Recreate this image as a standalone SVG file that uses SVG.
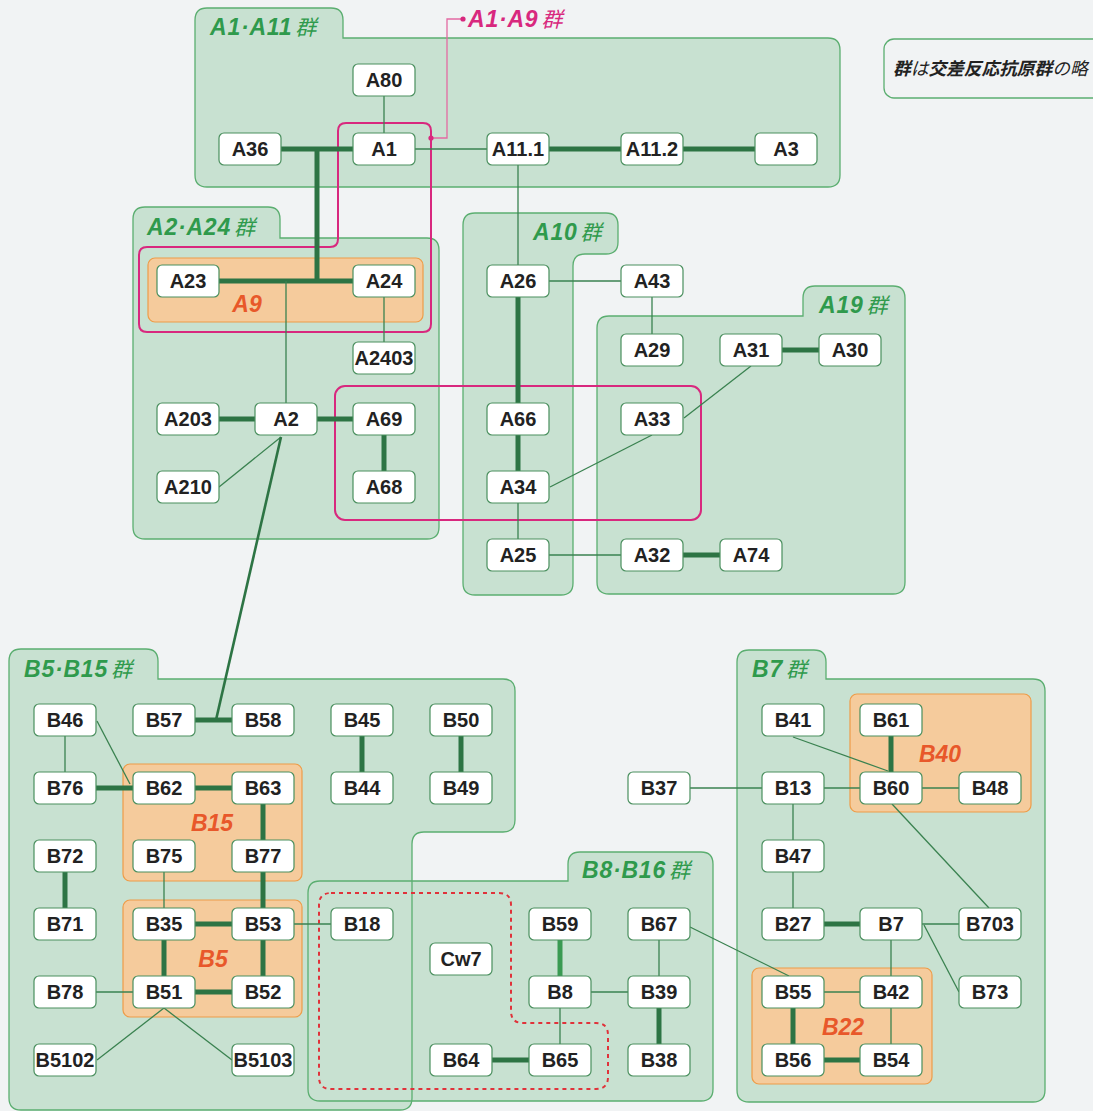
<svg xmlns="http://www.w3.org/2000/svg" width="1093" height="1111" viewBox="0 0 1093 1111">
<style>
.bg{fill:#f1f3f4}
.gf{fill:#c8e1d1;stroke:none}
.gs{fill:none;stroke:#5bae70;stroke-width:1.3}
.or{fill:#f5cb9c;stroke:#ee9c48;stroke-width:1.2}
.mg{fill:none;stroke:#d8287e;stroke-width:2}
.rd{fill:none;stroke:#e0323a;stroke-width:2;stroke-dasharray:4 4}
.tk{stroke:#2d7444;stroke-width:5;fill:none}
.tn{stroke:#3a8250;stroke-width:1.3;fill:none}
.nb{fill:#fff;stroke:#4a8f5e;stroke-width:1.2}
.nt{font-family:"Liberation Sans",Arial,sans-serif;font-weight:bold;font-size:20px;fill:#222;text-anchor:middle}
.gl{font-family:"Liberation Sans","Noto Sans CJK JP",sans-serif;font-weight:bold;font-style:italic;font-size:23px;fill:#2f9a4c;letter-spacing:0.8px}
.ol{font-family:"Liberation Sans",Arial,sans-serif;font-weight:bold;font-style:italic;font-size:23px;fill:#e8582a;text-anchor:middle}
.kj{font-weight:normal;font-size:21px}
.lg{font-family:"Liberation Sans","Noto Sans CJK JP",sans-serif;font-style:italic;font-size:17.7px;fill:#222}
</style>
<rect class="bg" x="0" y="0" width="1093" height="1111"/>

<g id="groups">
<path id="g-A1A11" class="gf" d="M195,20 Q195,8 207,8 H331 Q343,8 343,20 V38 H828 Q840,38 840,50 V175 Q840,187 828,187 H207 Q195,187 195,175 Z"/>
<path id="g-A2A24" class="gf" d="M133,219 Q133,207 145,207 H268 Q280,207 280,219 V238 H427 Q439,238 439,250 V527 Q439,539 427,539 H145 Q133,539 133,527 Z"/>
<path id="g-A10" class="gf" d="M463,225 Q463,213 475,213 H606 Q618,213 618,225 V242 Q618,254 606,254 H585 Q573,254 573,266 V583 Q573,595 561,595 H475 Q463,595 463,583 Z"/>
<path id="g-A19" class="gf" d="M609,316 H803 V298 Q803,286 815,286 H893 Q905,286 905,298 V582 Q905,594 893,594 H609 Q597,594 597,582 V328 Q597,316 609,316 Z"/>
<path id="g-B8B16" class="gf" d="M320,881 H568 V864 Q568,852 580,852 H701 Q713,852 713,864 V1089 Q713,1101 701,1101 H320 Q308,1101 308,1089 V893 Q308,881 320,881 Z"/>
<path id="g-B5B15" class="gf" d="M9,661 Q9,649 21,649 H146 Q158,649 158,661 V679 H503 Q515,679 515,691 V820 Q515,832 503,832 H424 Q412,832 412,844 V1098 Q412,1110 400,1110 H21 Q9,1110 9,1098 Z"/>
<path id="g-B7" class="gf" d="M737,662 Q737,650 749,650 H814 Q826,650 826,662 V679 H1033 Q1045,679 1045,691 V1090 Q1045,1102 1033,1102 H749 Q737,1102 737,1090 Z"/>
<path class="gs" d="M195,20 Q195,8 207,8 H331 Q343,8 343,20 V38 H828 Q840,38 840,50 V175 Q840,187 828,187 H207 Q195,187 195,175 Z"/>
<path class="gs" d="M133,219 Q133,207 145,207 H268 Q280,207 280,219 V238 H427 Q439,238 439,250 V527 Q439,539 427,539 H145 Q133,539 133,527 Z"/>
<path class="gs" d="M463,225 Q463,213 475,213 H606 Q618,213 618,225 V242 Q618,254 606,254 H585 Q573,254 573,266 V583 Q573,595 561,595 H475 Q463,595 463,583 Z"/>
<path class="gs" d="M609,316 H803 V298 Q803,286 815,286 H893 Q905,286 905,298 V582 Q905,594 893,594 H609 Q597,594 597,582 V328 Q597,316 609,316 Z"/>
<path class="gs" d="M320,881 H568 V864 Q568,852 580,852 H701 Q713,852 713,864 V1089 Q713,1101 701,1101 H320 Q308,1101 308,1089 V893 Q308,881 320,881 Z"/>
<path class="gs" d="M9,661 Q9,649 21,649 H146 Q158,649 158,661 V679 H503 Q515,679 515,691 V820 Q515,832 503,832 H424 Q412,832 412,844 V1098 Q412,1110 400,1110 H21 Q9,1110 9,1098 Z"/>
<path class="gs" d="M737,662 Q737,650 749,650 H814 Q826,650 826,662 V679 H1033 Q1045,679 1045,691 V1090 Q1045,1102 1033,1102 H749 Q737,1102 737,1090 Z"/>
</g>

<g id="subgroups">
<rect id="s-A9" class="or" x="148" y="258" width="275" height="64" rx="7"/>
<rect id="s-B15" class="or" x="123" y="764" width="179" height="117" rx="7"/>
<rect id="s-B5" class="or" x="123" y="900" width="179" height="117" rx="7"/>
<rect id="s-B40" class="or" x="850" y="694" width="181" height="118" rx="7"/>
<rect id="s-B22" class="or" x="752" y="968" width="180" height="116" rx="7"/>
</g>

<g id="outlines">
<path class="mg" d="M346,123 H423 Q431,123 431,131 V324 Q431,332 423,332 H147 Q139,332 139,324 V255 Q139,247 147,247 H330 Q338,247 338,239 V131 Q338,123 346,123 Z"/>
<rect class="mg" x="335" y="386" width="366" height="134" rx="10"/>
<path class="rd" d="M331,893 H499 Q511,893 511,905 V1011 Q511,1023 523,1023 H596 Q608,1023 608,1035 V1077 Q608,1089 596,1089 H331 Q319,1089 319,1077 V905 Q319,893 331,893 Z"/>
<path d="M431,138 H447 V19 H463" fill="none" stroke="#e36aa2" stroke-width="1.3"/>
<circle cx="431" cy="138" r="2.6" fill="#d8287e"/>
<circle cx="463" cy="19" r="2.6" fill="#d8287e"/>
</g>

<g id="connectors">
<line class="tn" x1="384" y1="96" x2="384" y2="133"/>
<line class="tk" x1="281" y1="149" x2="353" y2="149"/>
<line class="tk" x1="317" y1="149" x2="317" y2="281"/>
<line class="tk" x1="219" y1="281" x2="353" y2="281"/>
<line class="tn" x1="415" y1="149" x2="487" y2="149"/>
<line class="tk" x1="549" y1="149" x2="621" y2="149"/>
<line class="tk" x1="683" y1="149" x2="755" y2="149"/>
<line class="tn" x1="518" y1="165" x2="518" y2="265"/>
<line class="tn" x1="286" y1="281" x2="286" y2="403"/>
<line class="tn" x1="384" y1="297" x2="384" y2="342"/>
<line class="tk" x1="219" y1="419" x2="255" y2="419"/>
<line class="tk" x1="317" y1="419" x2="353" y2="419"/>
<line class="tk" x1="384" y1="435" x2="384" y2="471"/>
<line class="tn" x1="281" y1="437" x2="219" y2="487"/>
<line x1="281" y1="437" x2="216" y2="720" stroke="#2d7444" stroke-width="2.6"/>
<line class="tn" x1="549" y1="281" x2="621" y2="281"/>
<line class="tk" x1="518" y1="297" x2="518" y2="403"/>
<line class="tk" x1="518" y1="435" x2="518" y2="471"/>
<line class="tn" x1="518" y1="503" x2="518" y2="539"/>
<line class="tn" x1="652" y1="297" x2="652" y2="334"/>
<line class="tk" x1="782" y1="350" x2="819" y2="350"/>
<line class="tn" x1="751" y1="366" x2="684" y2="418"/>
<line class="tn" x1="652" y1="435" x2="550" y2="487"/>
<line class="tn" x1="549" y1="555" x2="621" y2="555"/>
<line class="tk" x1="683" y1="555" x2="720" y2="555"/>

<line class="tk" x1="195" y1="720" x2="232" y2="720"/>
<line class="tn" x1="65" y1="736" x2="65" y2="772"/>
<line class="tn" x1="97" y1="721" x2="130" y2="784"/>
<line class="tk" x1="96" y1="788" x2="133" y2="788"/>
<line class="tk" x1="195" y1="788" x2="232" y2="788"/>
<line class="tk" x1="263" y1="804" x2="263" y2="840"/>
<line class="tk" x1="263" y1="872" x2="263" y2="908"/>
<line class="tn" x1="164" y1="872" x2="164" y2="908"/>
<line class="tk" x1="65" y1="872" x2="65" y2="908"/>
<line class="tk" x1="195" y1="924" x2="232" y2="924"/>
<line class="tk" x1="164" y1="940" x2="164" y2="976"/>
<line class="tk" x1="263" y1="940" x2="263" y2="976"/>
<line class="tk" x1="195" y1="992" x2="232" y2="992"/>
<line class="tn" x1="96" y1="992" x2="133" y2="992"/>
<line class="tn" x1="164" y1="1008" x2="97" y2="1060"/>
<line class="tn" x1="164" y1="1008" x2="232" y2="1060"/>
<line class="tn" x1="294" y1="924" x2="331" y2="924"/>
<line class="tk" x1="362" y1="736" x2="362" y2="772"/>
<line class="tk" x1="461" y1="736" x2="461" y2="772"/>
<line x1="560" y1="940" x2="560" y2="976" stroke="#3a9a52" stroke-width="5"/>
<line class="tn" x1="591" y1="992" x2="628" y2="992"/>
<line class="tn" x1="560" y1="1008" x2="560" y2="1044"/>
<line class="tk" x1="492" y1="1060" x2="529" y2="1060"/>
<line class="tn" x1="659" y1="940" x2="659" y2="976"/>
<line class="tk" x1="659" y1="1008" x2="659" y2="1044"/>
<line class="tn" x1="690" y1="927" x2="789" y2="976"/>
<line class="tn" x1="690" y1="788" x2="762" y2="788"/>
<line class="tn" x1="824" y1="788" x2="860" y2="788"/>
<line class="tn" x1="793" y1="737" x2="888" y2="771"/>
<line class="tk" x1="891" y1="736" x2="891" y2="772"/>
<line class="tn" x1="922" y1="788" x2="959" y2="788"/>
<line class="tn" x1="892" y1="804" x2="989" y2="908"/>
<line class="tn" x1="793" y1="804" x2="793" y2="840"/>
<line class="tn" x1="793" y1="872" x2="793" y2="908"/>
<line class="tk" x1="824" y1="924" x2="860" y2="924"/>
<line class="tn" x1="922" y1="924" x2="959" y2="924"/>
<line class="tn" x1="924" y1="925" x2="959" y2="992"/>
<line class="tn" x1="891" y1="940" x2="891" y2="976"/>
<line class="tn" x1="824" y1="992" x2="860" y2="992"/>
<line class="tn" x1="891" y1="1008" x2="891" y2="1044"/>
<line class="tk" x1="793" y1="1008" x2="793" y2="1044"/>
<line class="tk" x1="824" y1="1060" x2="860" y2="1060"/>
</g>

<g id="nodes">
<g id="n-A80"><rect class="nb" x="353" y="64" width="62" height="32" rx="5"/><text class="nt" x="384" y="87">A80</text></g>
<g id="n-A36"><rect class="nb" x="219" y="133" width="62" height="32" rx="5"/><text class="nt" x="250" y="156">A36</text></g>
<g id="n-A1"><rect class="nb" x="353" y="133" width="62" height="32" rx="5"/><text class="nt" x="384" y="156">A1</text></g>
<g id="n-A11.1"><rect class="nb" x="487" y="133" width="62" height="32" rx="5"/><text class="nt" x="518" y="156">A11.1</text></g>
<g id="n-A11.2"><rect class="nb" x="621" y="133" width="62" height="32" rx="5"/><text class="nt" x="652" y="156">A11.2</text></g>
<g id="n-A3"><rect class="nb" x="755" y="133" width="62" height="32" rx="5"/><text class="nt" x="786" y="156">A3</text></g>
<g id="n-A23"><rect class="nb" x="157" y="265" width="62" height="32" rx="5"/><text class="nt" x="188" y="288">A23</text></g>
<g id="n-A24"><rect class="nb" x="353" y="265" width="62" height="32" rx="5"/><text class="nt" x="384" y="288">A24</text></g>
<g id="n-A26"><rect class="nb" x="487" y="265" width="62" height="32" rx="5"/><text class="nt" x="518" y="288">A26</text></g>
<g id="n-A43"><rect class="nb" x="621" y="265" width="62" height="32" rx="5"/><text class="nt" x="652" y="288">A43</text></g>
<g id="n-A29"><rect class="nb" x="621" y="334" width="62" height="32" rx="5"/><text class="nt" x="652" y="357">A29</text></g>
<g id="n-A31"><rect class="nb" x="720" y="334" width="62" height="32" rx="5"/><text class="nt" x="751" y="357">A31</text></g>
<g id="n-A30"><rect class="nb" x="819" y="334" width="62" height="32" rx="5"/><text class="nt" x="850" y="357">A30</text></g>
<g id="n-A2403"><rect class="nb" x="353" y="342" width="62" height="32" rx="5"/><text class="nt" x="384" y="365">A2403</text></g>
<g id="n-A203"><rect class="nb" x="157" y="403" width="62" height="32" rx="5"/><text class="nt" x="188" y="426">A203</text></g>
<g id="n-A2"><rect class="nb" x="255" y="403" width="62" height="32" rx="5"/><text class="nt" x="286" y="426">A2</text></g>
<g id="n-A69"><rect class="nb" x="353" y="403" width="62" height="32" rx="5"/><text class="nt" x="384" y="426">A69</text></g>
<g id="n-A66"><rect class="nb" x="487" y="403" width="62" height="32" rx="5"/><text class="nt" x="518" y="426">A66</text></g>
<g id="n-A33"><rect class="nb" x="621" y="403" width="62" height="32" rx="5"/><text class="nt" x="652" y="426">A33</text></g>
<g id="n-A210"><rect class="nb" x="157" y="471" width="62" height="32" rx="5"/><text class="nt" x="188" y="494">A210</text></g>
<g id="n-A68"><rect class="nb" x="353" y="471" width="62" height="32" rx="5"/><text class="nt" x="384" y="494">A68</text></g>
<g id="n-A34"><rect class="nb" x="487" y="471" width="62" height="32" rx="5"/><text class="nt" x="518" y="494">A34</text></g>
<g id="n-A25"><rect class="nb" x="487" y="539" width="62" height="32" rx="5"/><text class="nt" x="518" y="562">A25</text></g>
<g id="n-A32"><rect class="nb" x="621" y="539" width="62" height="32" rx="5"/><text class="nt" x="652" y="562">A32</text></g>
<g id="n-A74"><rect class="nb" x="720" y="539" width="62" height="32" rx="5"/><text class="nt" x="751" y="562">A74</text></g>

<g id="n-B46"><rect class="nb" x="34" y="704" width="62" height="32" rx="5"/><text class="nt" x="65" y="727">B46</text></g>
<g id="n-B57"><rect class="nb" x="133" y="704" width="62" height="32" rx="5"/><text class="nt" x="164" y="727">B57</text></g>
<g id="n-B58"><rect class="nb" x="232" y="704" width="62" height="32" rx="5"/><text class="nt" x="263" y="727">B58</text></g>
<g id="n-B45"><rect class="nb" x="331" y="704" width="62" height="32" rx="5"/><text class="nt" x="362" y="727">B45</text></g>
<g id="n-B50"><rect class="nb" x="430" y="704" width="62" height="32" rx="5"/><text class="nt" x="461" y="727">B50</text></g>
<g id="n-B41"><rect class="nb" x="762" y="704" width="62" height="32" rx="5"/><text class="nt" x="793" y="727">B41</text></g>
<g id="n-B61"><rect class="nb" x="860" y="704" width="62" height="32" rx="5"/><text class="nt" x="891" y="727">B61</text></g>
<g id="n-B76"><rect class="nb" x="34" y="772" width="62" height="32" rx="5"/><text class="nt" x="65" y="795">B76</text></g>
<g id="n-B62"><rect class="nb" x="133" y="772" width="62" height="32" rx="5"/><text class="nt" x="164" y="795">B62</text></g>
<g id="n-B63"><rect class="nb" x="232" y="772" width="62" height="32" rx="5"/><text class="nt" x="263" y="795">B63</text></g>
<g id="n-B44"><rect class="nb" x="331" y="772" width="62" height="32" rx="5"/><text class="nt" x="362" y="795">B44</text></g>
<g id="n-B49"><rect class="nb" x="430" y="772" width="62" height="32" rx="5"/><text class="nt" x="461" y="795">B49</text></g>
<g id="n-B37"><rect class="nb" x="628" y="772" width="62" height="32" rx="5"/><text class="nt" x="659" y="795">B37</text></g>
<g id="n-B13"><rect class="nb" x="762" y="772" width="62" height="32" rx="5"/><text class="nt" x="793" y="795">B13</text></g>
<g id="n-B60"><rect class="nb" x="860" y="772" width="62" height="32" rx="5"/><text class="nt" x="891" y="795">B60</text></g>
<g id="n-B48"><rect class="nb" x="959" y="772" width="62" height="32" rx="5"/><text class="nt" x="990" y="795">B48</text></g>
<g id="n-B72"><rect class="nb" x="34" y="840" width="62" height="32" rx="5"/><text class="nt" x="65" y="863">B72</text></g>
<g id="n-B75"><rect class="nb" x="133" y="840" width="62" height="32" rx="5"/><text class="nt" x="164" y="863">B75</text></g>
<g id="n-B77"><rect class="nb" x="232" y="840" width="62" height="32" rx="5"/><text class="nt" x="263" y="863">B77</text></g>
<g id="n-B47"><rect class="nb" x="762" y="840" width="62" height="32" rx="5"/><text class="nt" x="793" y="863">B47</text></g>
<g id="n-B71"><rect class="nb" x="34" y="908" width="62" height="32" rx="5"/><text class="nt" x="65" y="931">B71</text></g>
<g id="n-B35"><rect class="nb" x="133" y="908" width="62" height="32" rx="5"/><text class="nt" x="164" y="931">B35</text></g>
<g id="n-B53"><rect class="nb" x="232" y="908" width="62" height="32" rx="5"/><text class="nt" x="263" y="931">B53</text></g>
<g id="n-B18"><rect class="nb" x="331" y="908" width="62" height="32" rx="5"/><text class="nt" x="362" y="931">B18</text></g>
<g id="n-B59"><rect class="nb" x="529" y="908" width="62" height="32" rx="5"/><text class="nt" x="560" y="931">B59</text></g>
<g id="n-B67"><rect class="nb" x="628" y="908" width="62" height="32" rx="5"/><text class="nt" x="659" y="931">B67</text></g>
<g id="n-B27"><rect class="nb" x="762" y="908" width="62" height="32" rx="5"/><text class="nt" x="793" y="931">B27</text></g>
<g id="n-B7"><rect class="nb" x="860" y="908" width="62" height="32" rx="5"/><text class="nt" x="891" y="931">B7</text></g>
<g id="n-B703"><rect class="nb" x="959" y="908" width="62" height="32" rx="5"/><text class="nt" x="990" y="931">B703</text></g>
<g id="n-Cw7"><rect class="nb" x="430" y="943" width="62" height="32" rx="5"/><text class="nt" x="461" y="966">Cw7</text></g>
<g id="n-B78"><rect class="nb" x="34" y="976" width="62" height="32" rx="5"/><text class="nt" x="65" y="999">B78</text></g>
<g id="n-B51"><rect class="nb" x="133" y="976" width="62" height="32" rx="5"/><text class="nt" x="164" y="999">B51</text></g>
<g id="n-B52"><rect class="nb" x="232" y="976" width="62" height="32" rx="5"/><text class="nt" x="263" y="999">B52</text></g>
<g id="n-B8"><rect class="nb" x="529" y="976" width="62" height="32" rx="5"/><text class="nt" x="560" y="999">B8</text></g>
<g id="n-B39"><rect class="nb" x="628" y="976" width="62" height="32" rx="5"/><text class="nt" x="659" y="999">B39</text></g>
<g id="n-B55"><rect class="nb" x="762" y="976" width="62" height="32" rx="5"/><text class="nt" x="793" y="999">B55</text></g>
<g id="n-B42"><rect class="nb" x="860" y="976" width="62" height="32" rx="5"/><text class="nt" x="891" y="999">B42</text></g>
<g id="n-B73"><rect class="nb" x="959" y="976" width="62" height="32" rx="5"/><text class="nt" x="990" y="999">B73</text></g>
<g id="n-B5102"><rect class="nb" x="34" y="1044" width="62" height="32" rx="5"/><text class="nt" x="65" y="1067">B5102</text></g>
<g id="n-B5103"><rect class="nb" x="232" y="1044" width="62" height="32" rx="5"/><text class="nt" x="263" y="1067">B5103</text></g>
<g id="n-B64"><rect class="nb" x="430" y="1044" width="62" height="32" rx="5"/><text class="nt" x="461" y="1067">B64</text></g>
<g id="n-B65"><rect class="nb" x="529" y="1044" width="62" height="32" rx="5"/><text class="nt" x="560" y="1067">B65</text></g>
<g id="n-B38"><rect class="nb" x="628" y="1044" width="62" height="32" rx="5"/><text class="nt" x="659" y="1067">B38</text></g>
<g id="n-B56"><rect class="nb" x="762" y="1044" width="62" height="32" rx="5"/><text class="nt" x="793" y="1067">B56</text></g>
<g id="n-B54"><rect class="nb" x="860" y="1044" width="62" height="32" rx="5"/><text class="nt" x="891" y="1067">B54</text></g>
</g>

<g id="labels">
<text class="gl" x="210" y="35">A1·A11<tspan class="kj" dx="3">群</tspan></text>
<text class="gl" x="147" y="235">A2·A24<tspan class="kj" dx="3">群</tspan></text>
<text class="gl" x="533" y="240">A10<tspan class="kj" dx="3">群</tspan></text>
<text class="gl" x="819" y="313">A19<tspan class="kj" dx="3">群</tspan></text>
<text class="gl" x="24" y="677">B5·B15<tspan class="kj" dx="3">群</tspan></text>
<text class="gl" x="582" y="878">B8·B16<tspan class="kj" dx="3">群</tspan></text>
<text class="gl" x="752" y="677">B7<tspan class="kj" dx="3">群</tspan></text>
<text class="gl" x="468" y="27" style="fill:#d8287e">A1·A9<tspan class="kj" dx="3">群</tspan></text>
<text class="ol" x="247" y="312">A9</text>
<text class="ol" x="212" y="831">B15</text>
<text class="ol" x="213" y="967">B5</text>
<text class="ol" x="940" y="762">B40</text>
<text class="ol" x="843" y="1035">B22</text>
</g>

<g id="legend">
<rect x="884" y="39" width="220" height="59" rx="10" fill="#f1f3f4" stroke="#5bae70" stroke-width="1.3"/>
<text class="lg" x="893" y="75"><tspan font-weight="bold">群</tspan>は<tspan font-weight="bold">交差反応抗原群</tspan>の略</text>
</g>
</svg>
